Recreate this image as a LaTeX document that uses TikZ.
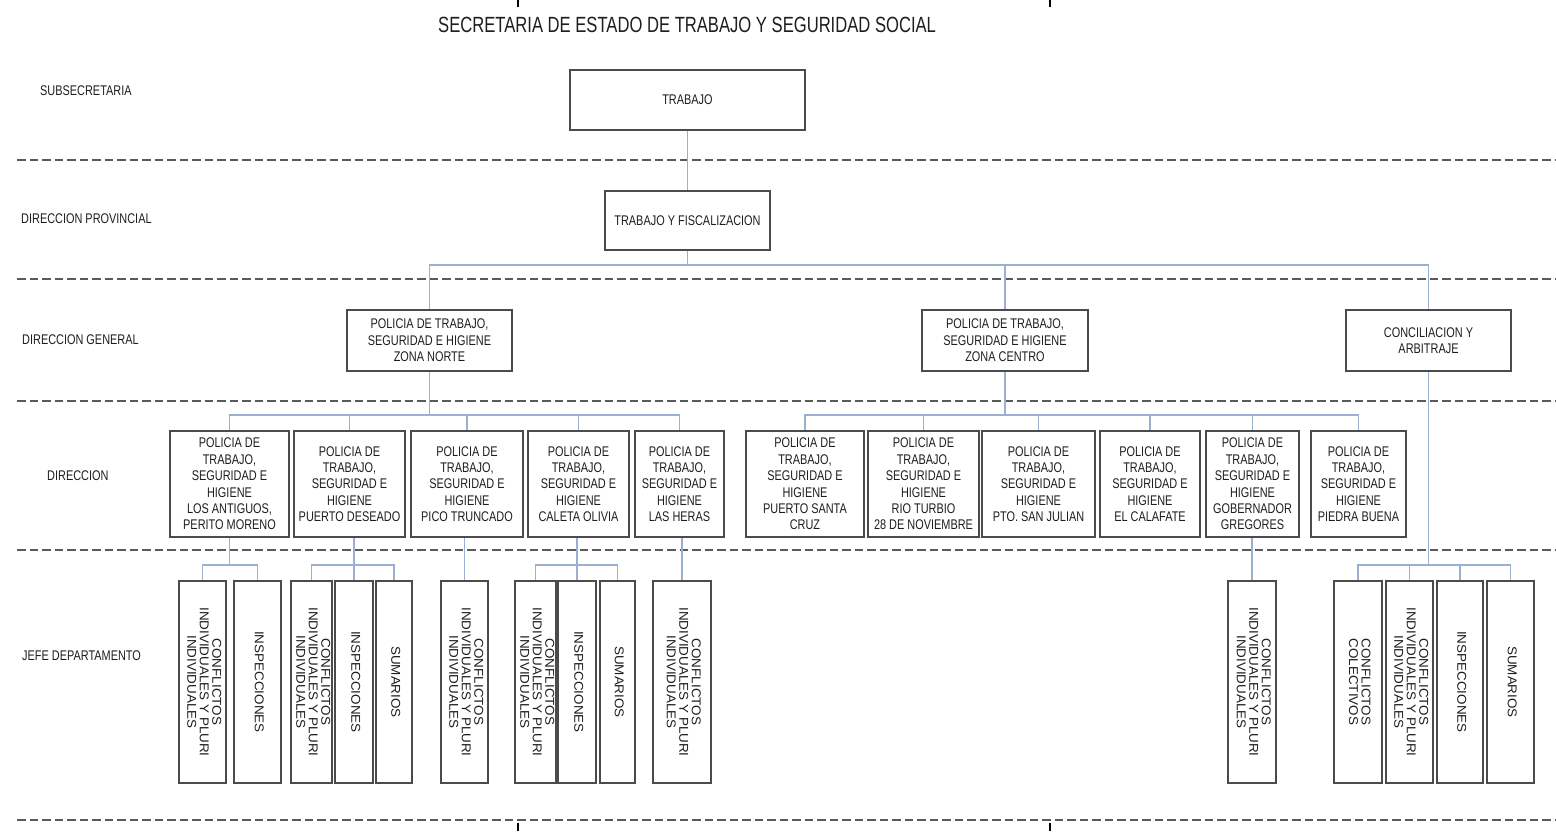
\documentclass[tikz,border=0pt]{standalone}
\usepackage{fontspec}
\usepackage{graphicx}
\setmainfont{Liberation Sans}
\newfontfamily\titlefont{Liberation Sans}[FakeStretch=0.755]
\newfontfamily\narrowfont{Liberation Sans}[FakeStretch=0.78]
\newfontfamily\vertfont{Liberation Sans}[FakeStretch=1.05]
\definecolor{boxgray}{HTML}{4B4B4B}
\definecolor{dashgray}{HTML}{5A5A5A}
\definecolor{connblue}{HTML}{9AB0D0}
\definecolor{textgray}{HTML}{1E1E1E}
\newcommand{\vlab}[1]{\rotatebox{-90}{\begin{tabular}{@{}c@{}}#1\end{tabular}}}
\newcommand{\conf}{CONFLICTOS\\INDIVIDUALES Y PLURI\\INDIVIDUALES}
\newcommand{\psh}{POLICIA DE\\TRABAJO,\\SEGURIDAD E\\HIGIENE}
\begin{document}
\begin{tikzpicture}[x=1pt,y=-1pt,
  box/.style={draw=boxgray, line width=1.6pt, fill=white, inner sep=0pt, align=center,
    text=textgray, font=\narrowfont\fontsize{14}{16.4}\selectfont},
  vbox/.style={draw=boxgray, line width=1.6pt, fill=white, inner sep=0pt,
    text=textgray, font=\vertfont\fontsize{12.8}{11.8}\selectfont, minimum height=202pt},
  dirbox/.style={box, minimum height=106pt},
  genbox/.style={box, minimum height=61pt},
  conn/.style={draw=connblue, line width=1.3pt},
  band/.style={draw=dashgray, line width=1.8pt, dash pattern=on 8.5pt off 4pt},
  level/.style={anchor=west, inner sep=0pt, text=textgray,
    font=\narrowfont\fontsize{14}{16}\selectfont},
  crop/.style={draw=black, line width=1.6pt}]
\useasboundingbox (0,0) rectangle (1556,831);
\fill[white] (0,0) rectangle (1556,831);

% crop ticks
\draw[crop] (518,0) -- (518,7);
\draw[crop] (1050,0) -- (1050,7);
\draw[crop] (518,823) -- (518,831);
\draw[crop] (1050,823) -- (1050,831);

% dashed band separators
\foreach \yy in {160,279,401,550,820} \draw[band] (17,\yy) -- (1556,\yy);

% title
\node[anchor=base west, inner sep=0pt, text=textgray, font=\titlefont\fontsize{22}{26}\selectfont]
  (title) at (438,32) {SECRETARIA DE ESTADO DE TRABAJO Y SEGURIDAD SOCIAL};

% level labels
\node[level] (l1) at (40,91) {SUBSECRETARIA};
\node[level] (l2) at (21,219) {DIRECCION PROVINCIAL};
\node[level] (l3) at (22,340) {DIRECCION GENERAL};
\node[level] (l4) at (47,476) {DIRECCION};
\node[level] (l5) at (22,656) {JEFE DEPARTAMENTO};

% top levels
\node[box, minimum width=235pt, minimum height=60pt] (trabajo) at (687.5,100) {TRABAJO};
\node[box, minimum width=165pt, minimum height=59pt] (tyf) at (687.5,220.5) {TRABAJO Y FISCALIZACION};

\node[genbox, minimum width=165pt] (norte) at (429.5,340.5) {POLICIA DE TRABAJO,\\SEGURIDAD E HIGIENE\\ZONA NORTE};
\node[genbox, minimum width=166pt] (centro) at (1005,340.5) {POLICIA DE TRABAJO,\\SEGURIDAD E HIGIENE\\ZONA CENTRO};
\node[genbox, minimum width=165pt] (concil) at (1428.5,340.5) {CONCILIACION Y\\ARBITRAJE};

% direccion row
\node[dirbox, minimum width=119pt] (d1) at (229.5,484) {\psh\\LOS ANTIGUOS,\\PERITO MORENO};
\node[dirbox, minimum width=111pt] (d2) at (349.5,484) {\psh\\PUERTO DESEADO};
\node[dirbox, minimum width=112pt] (d3) at (467,484) {\psh\\PICO TRUNCADO};
\node[dirbox, minimum width=101pt] (d4) at (578.5,484) {\psh\\CALETA OLIVIA};
\node[dirbox, minimum width=89pt] (d5) at (679.5,484) {\psh\\LAS HERAS};
\node[dirbox, minimum width=118pt] (c1) at (805,484) {\psh\\PUERTO SANTA\\CRUZ};
\node[dirbox, minimum width=111pt] (c2) at (923.5,484) {\psh\\RIO TURBIO\\28 DE NOVIEMBRE};
\node[dirbox, minimum width=113pt] (c3) at (1038.5,484) {\psh\\PTO. SAN JULIAN};
\node[dirbox, minimum width=100pt] (c4) at (1150,484) {\psh\\EL CALAFATE};
\node[dirbox, minimum width=93pt] (c5) at (1252.5,484) {\psh\\GOBERNADOR\\GREGORES};
\node[dirbox, minimum width=95pt] (c6) at (1358.5,484) {\psh\\PIEDRA BUENA};

% jefe departamento row
\node[vbox, minimum width=47pt] (j1a) at (202.5,682) {\vlab{\conf}};
\node[vbox, minimum width=47pt] (j1b) at (257.5,682) {\vlab{INSPECCIONES}};
\node[vbox, minimum width=41pt] (j2a) at (311.5,682) {\vlab{\conf}};
\node[vbox, minimum width=38pt] (j2b) at (354,682) {\vlab{INSPECCIONES}};
\node[vbox, minimum width=36pt] (j2c) at (394,682) {\vlab{SUMARIOS}};
\node[vbox, minimum width=47pt] (j3) at (464.5,682) {\vlab{\conf}};
\node[vbox, minimum width=41pt] (j4a) at (535.5,682) {\vlab{\conf}};
\node[vbox, minimum width=38pt] (j4b) at (577,682) {\vlab{INSPECCIONES}};
\node[vbox, minimum width=35pt] (j4c) at (617.5,682) {\vlab{SUMARIOS}};
\node[vbox, minimum width=58pt] (j5) at (682,682) {\vlab{\conf}};
\node[vbox, minimum width=48pt] (jg) at (1252,682) {\vlab{\conf}};
\node[vbox, minimum width=48pt] (k1) at (1358,682) {\vlab{CONFLICTOS\\COLECTIVOS}};
\node[vbox, minimum width=47pt] (k2) at (1409.5,682) {\vlab{\conf}};
\node[vbox, minimum width=46pt] (k3) at (1460,682) {\vlab{INSPECCIONES}};
\node[vbox, minimum width=47pt] (k4) at (1510.5,682) {\vlab{SUMARIOS}};

% bus coordinates
\coordinate (busP) at (687.5,265);
\coordinate (busN) at (429.5,415);
\coordinate (busC) at (1005,415);
\coordinate (busK) at (1428.5,565);
\coordinate (busG1) at (229.5,565);
\coordinate (busG2) at (354,565);
\coordinate (busG4) at (577,565);

% connectors
\draw[conn] (trabajo) -- (tyf);
\draw[conn] (tyf) -- (busP);
\foreach \n in {norte,centro,concil} \draw[conn] (busP) -| (\n);
\draw[conn] (norte) -- (busN);
\foreach \n in {d1,d2,d3,d4,d5} \draw[conn] (busN) -| (\n);
\draw[conn] (centro) -- (busC);
\foreach \n in {c1,c2,c3,c4,c5,c6} \draw[conn] (busC) -| (\n);
\draw[conn] (concil) -- (busK);
\foreach \n in {k1,k2,k3,k4} \draw[conn] (busK) -| (\n);
\draw[conn] (d1) -- (busG1);
\foreach \n in {j1a,j1b} \draw[conn] (busG1) -| (\n);
\draw[conn] (d2.south -| busG2) -- (busG2);
\foreach \n in {j2a,j2b,j2c} \draw[conn] (busG2) -| (\n);
\draw[conn] (d3.south -| j3.north) -- (j3.north);
\draw[conn] (d4.south -| busG4) -- (busG4);
\foreach \n in {j4a,j4b,j4c} \draw[conn] (busG4) -| (\n);
\draw[conn] (d5.south -| j5.north) -- (j5.north);
\draw[conn] (c5.south -| jg.north) -- (jg.north);
\end{tikzpicture}
\end{document}
